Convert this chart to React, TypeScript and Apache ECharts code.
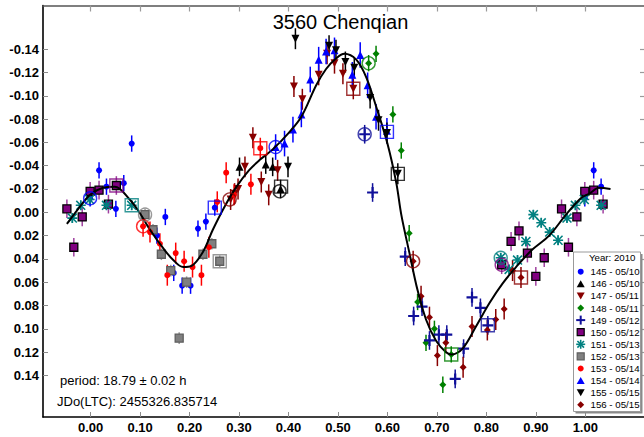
import { useEffect, useRef } from 'react';
import * as echarts from 'echarts';

const FONT = "'Liberation Sans', Arial, Helvetica, sans-serif";

// ---- Observing sessions -------------------------------------------------
const sessionIds = ['145', '146', '147', '148', '149', '150', '151', '152', '153', '154', '155', '156'];
const sessionDates = ['05/10', '05/10', '05/11', '05/11', '05/12', '05/12', '05/13', '05/13', '05/14', '05/14', '05/15', '05/15'];

// Reduced magnitudes per session: [phase, delta mag]
const s145 = [[0.999, -0.012], [0.017, -0.036], [0.032, -0.022], [0.051, -0.003], [0.067, -0.025], [0.083, -0.059], [0.134, 0.020], [0.151, 0.004], [0.168, 0.052], [0.185, 0.063], [0.202, 0.063], [0.217, 0.014], [0.233, 0.008], [0.251, -0.004]];
const s146 = [[0.301, -0.039], [0.354, -0.041], [0.368, -0.039], [0.384, -0.020]];
const s147 = [[0.283, -0.011], [0.291, -0.016], [0.298, -0.020], [0.312, -0.039], [0.328, -0.064], [0.345, -0.026], [0.360, -0.015], [0.378, -0.036], [0.411, -0.108], [0.428, -0.097], [0.461, -0.118], [0.478, -0.136], [0.493, -0.128], [0.510, -0.119], [0.531, -0.106]];
const s148 = [[0.562, -0.128], [0.577, -0.136], [0.611, -0.084], [0.628, -0.053], [0.644, 0.018], [0.661, 0.077], [0.678, 0.112], [0.695, 0.100], [0.712, 0.148], [0.729, 0.122]];
const s149 = [[0.554, -0.067], [0.570, -0.017], [0.636, 0.038], [0.653, 0.089], [0.670, 0.081], [0.685, 0.110], [0.704, 0.105], [0.720, 0.105], [0.737, 0.143], [0.754, 0.117], [0.771, 0.073], [0.788, 0.082], [0.803, 0.097]];
const s150 = [[0.999, -0.018], [0.017, -0.019], [0.036, -0.007], [0.052, -0.023], [0.831, 0.045], [0.850, 0.025], [0.866, 0.016], [0.883, 0.035], [0.900, 0.055], [0.917, 0.039], [0.952, -0.003], [0.966, 0.030], [0.983, 0.004]];
const s151 = [[0.032, -0.006], [0.083, -0.006], [0.829, 0.039], [0.846, 0.049], [0.863, 0.041], [0.880, 0.025], [0.895, 0.002], [0.911, 0.009], [0.928, 0.017], [0.945, 0.024], [0.963, 0.005], [0.980, -0.006], [0.998, -0.011]];
const s152 = [[0.110, 0.002], [0.126, 0.015], [0.143, 0.036], [0.162, 0.050], [0.179, 0.108], [0.194, 0.060], [0.227, 0.036], [0.245, 0.027], [0.261, 0.042]];
const s153 = [[0.106, 0.012], [0.120, 0.017], [0.140, 0.027], [0.155, 0.054], [0.172, 0.035], [0.189, 0.042], [0.206, 0.047], [0.224, 0.054], [0.239, 0.030], [0.256, -0.009], [0.274, -0.034], [0.290, -0.015], [0.324, -0.024], [0.343, -0.055]];
const s154 = [[0.374, -0.056], [0.392, -0.059], [0.409, -0.071], [0.426, -0.084], [0.444, -0.114], [0.461, -0.131], [0.476, -0.138], [0.493, -0.139], [0.529, -0.118], [0.545, -0.135], [0.560, -0.109], [0.577, -0.082], [0.599, -0.070]];
const s155 = [[0.399, -0.039], [0.414, -0.149], [0.482, -0.143], [0.496, -0.139], [0.515, -0.129], [0.533, -0.124], [0.565, -0.098], [0.582, -0.079], [0.599, -0.068], [0.621, -0.033]];
const s156 = [[0.652, 0.042], [0.668, 0.072], [0.685, 0.090], [0.701, 0.123], [0.718, 0.112], [0.753, 0.133], [0.771, 0.098], [0.802, 0.101], [0.819, 0.092], [0.836, 0.083], [0.853, 0.050], [0.870, 0.056]];

const sessionPoints = [s145, s146, s147, s148, s149, s150, s151, s152, s153, s154, s155, s156];

// Photometric error (half length of the error bar) per session
const sessionErrors = [0.007, 0.008, 0.009, 0.007, 0.008, 0.008, 0.004, 0.005, 0.009, 0.011, 0.009, 0.009];

// First / last point of each session: [phase, delta mag, session]
const ringMarks = [[-0.001, -0.012, '145'], [0.106, 0.012, '153'], [0.110, 0.002, '152'], [0.281, -0.011, '147'], [0.374, -0.056, '154'], [0.382, -0.018, '146'], [0.554, -0.067, '149'], [0.562, -0.128, '148'], [0.652, 0.042, '156'], [0.829, 0.039, '151'], [0.831, 0.045, '150']];
const boxMarks = [[0.052, -0.023, '150'], [0.083, -0.006, '151'], [0.251, -0.004, '145'], [0.261, 0.042, '152'], [0.343, -0.055, '153'], [0.385, -0.022, '146'], [0.531, -0.106, '147'], [0.599, -0.069, '154'], [0.621, -0.033, '155'], [0.729, 0.122, '148'], [0.803, 0.097, '149'], [0.870, 0.056, '156']];

// Fourier fit of the lightcurve: [phase, delta mag]
const fitCurve = [[-0.048, 0.010], [-0.025, -0.003], [-0.001, -0.015], [0.025, -0.021], [0.049, -0.022], [0.079, -0.011], [0.100, 0.001], [0.120, 0.015], [0.147, 0.031], [0.167, 0.041], [0.187, 0.047], [0.204, 0.046], [0.227, 0.034], [0.247, 0.015], [0.271, -0.005], [0.295, -0.022], [0.320, -0.036], [0.342, -0.045], [0.368, -0.054], [0.400, -0.068], [0.426, -0.082], [0.456, -0.109], [0.476, -0.123], [0.496, -0.132], [0.513, -0.136], [0.537, -0.131], [0.557, -0.116], [0.577, -0.091], [0.600, -0.059], [0.618, -0.025], [0.628, 0.002], [0.644, 0.034], [0.661, 0.067], [0.678, 0.092], [0.698, 0.110], [0.718, 0.120], [0.729, 0.122], [0.752, 0.117], [0.779, 0.098], [0.806, 0.078], [0.833, 0.061], [0.860, 0.047], [0.893, 0.032], [0.927, 0.020], [0.961, 0.002], [0.991, -0.012], [1.008, -0.016], [1.028, -0.021], [1.051, -0.020]];

const xTicks = [0, 0.1, 0.2, 0.3, 0.4, 0.5, 0.6, 0.7, 0.8, 0.9, 1.0];
const yTicks = [-0.14, -0.12, -0.1, -0.08, -0.06, -0.04, -0.02, 0, 0.02, 0.04, 0.06, 0.08, 0.1, 0.12, 0.14];

const titleText = '3560 Chenqian';
const periodText = 'period: 18.79 \u00b1 0.02 h';
const epochText = 'JDo(LTC): 2455326.835714';
const yearText = 'Year: 2010';

// ---- Styles ----------------------------------------------------------------
const DOWN = 'path://M0,0L10,0L5,10Z';
const PLUS = 'path://M4,0H6V4H10V6H6V10H4V6H0V4H4Z';
const STAR = 'path://M0,4.2H10V5.8H0Z M4.2,0H5.8V10H4.2Z M1.1,0L10,8.9L8.9,10L0,1.1Z M8.9,0L10,1.1L1.1,10L0,8.9Z';

type MarkerStyle = { color: string; symbol: string; size: number; border?: string; bar?: string; icon: string };
const markerStyles: Record<string, MarkerStyle> = {
  '145': { color: '#0000ff', symbol: 'circle', size: 6, icon: 'circle' },
  '146': { color: '#000000', symbol: 'triangle', size: 8, icon: 'up' },
  '147': { color: '#880000', symbol: DOWN, size: 8, icon: 'down' },
  '148': { color: '#008000', symbol: 'diamond', size: 7, icon: 'diamond' },
  '149': { color: '#10109a', symbol: PLUS, size: 11, icon: 'plus' },
  '150': { color: '#800080', symbol: 'rect', size: 8, border: '#000000', bar: '#a040a0', icon: 'square' },
  '151': { color: '#008080', symbol: STAR, size: 10, icon: 'star' },
  '152': { color: '#808080', symbol: 'rect', size: 8, border: '#5e5e5e', bar: '#9a9a9a', icon: 'square' },
  '153': { color: '#ff0000', symbol: 'circle', size: 6, icon: 'circle' },
  '154': { color: '#0000ff', symbol: 'triangle', size: 8, icon: 'up' },
  '155': { color: '#000000', symbol: DOWN, size: 8, icon: 'down' },
  '156': { color: '#880000', symbol: 'diamond', size: 7, icon: 'diamond' },
};

// Plot window: pixel-exact frame around the phase / magnitude ranges
const X_MIN = -0.0963;
const X_MAX = 1.1187;
const Y_MIN = -0.1775;
const Y_MAX = 0.1757;

// Phases near 0 and 1 are repeated on the other side of the cycle
function foldPhase(points: number[][], err: number) {
  const out: number[][] = [];
  points.forEach(([p, m]) => {
    out.push([p, m, err]);
    if (p <= 0.049) out.push([p + 1, m, err]);
    if (p >= 0.951) out.push([p - 1, m, err]);
  });
  return out;
}

function legendIcon(kind: string, cx: number, cy: number, st: MarkerStyle): any[] {
  const c = st.color;
  switch (kind) {
    case 'circle':
      return [{ type: 'circle', shape: { cx, cy, r: 3 }, style: { fill: c } }];
    case 'up':
      return [{ type: 'polygon', shape: { points: [[cx - 4, cy + 3.5], [cx + 4, cy + 3.5], [cx, cy - 3.5]] }, style: { fill: c } }];
    case 'down':
      return [{ type: 'polygon', shape: { points: [[cx - 4, cy - 3.5], [cx + 4, cy - 3.5], [cx, cy + 3.5]] }, style: { fill: c } }];
    case 'diamond':
      return [{ type: 'polygon', shape: { points: [[cx, cy - 3.5], [cx + 3.5, cy], [cx, cy + 3.5], [cx - 3.5, cy]] }, style: { fill: c } }];
    case 'plus':
      return [
        { type: 'rect', shape: { x: cx - 4.5, y: cy - 1, width: 9, height: 2 }, style: { fill: c } },
        { type: 'rect', shape: { x: cx - 1, y: cy - 4.5, width: 2, height: 9 }, style: { fill: c } },
      ];
    case 'square':
      return [{ type: 'rect', shape: { x: cx - 3.5, y: cy - 3.5, width: 7, height: 7 }, style: { fill: c, stroke: st.border || c, lineWidth: 1.2 } }];
    case 'star':
      return [
        [cx - 4.5, cy, cx + 4.5, cy],
        [cx, cy - 4.5, cx, cy + 4.5],
        [cx - 3.3, cy - 3.3, cx + 3.3, cy + 3.3],
        [cx - 3.3, cy + 3.3, cx + 3.3, cy - 3.3],
      ].map(([x1, y1, x2, y2]) => ({ type: 'line', shape: { x1, y1, x2, y2 }, style: { stroke: c, lineWidth: 1.6 } }));
    default:
      return [];
  }
}

function buildLegend(): any[] {
  const left = 573.5;
  const top = 252;
  const w = 67;
  const h = 159.5;
  const els: any[] = [
    { type: 'rect', shape: { x: left + 2, y: top + 2, width: w, height: h }, style: { fill: '#8a8a8a' } },
    { type: 'rect', shape: { x: left, y: top, width: w, height: h }, style: { fill: '#ffffff', stroke: '#9a9a9a', lineWidth: 1 } },
    { type: 'text', x: 589, y: 257.5, style: { text: yearText, fontSize: 9.7, fontFamily: FONT, fill: '#000', verticalAlign: 'middle' } },
  ];
  sessionIds.forEach((id, i) => {
    const cy = 271.7 + i * 12.1;
    els.push(...legendIcon(markerStyles[id].icon, 580.7, cy, markerStyles[id]));
    els.push({ type: 'text', x: 590.5, y: cy, style: { text: `${id} - ${sessionDates[i]}`, fontSize: 9.7, fontFamily: FONT, fill: '#000', verticalAlign: 'middle' } });
  });
  return els.map((e) => ({ ...e, z: 100, silent: true }));
}

export default function App() {
  const ref = useRef<HTMLDivElement>(null);

  useEffect(() => {
    if (!ref.current) return;
    const chart = echarts.init(ref.current, undefined, { renderer: 'svg' });

    const series: any[] = [];

    // error bars
    sessionIds.forEach((id, i) => {
      const st = markerStyles[id];
      const stroke = st.bar || st.color;
      series.push({
        type: 'custom',
        silent: true,
        z: 2,
        encode: { x: 0, y: 1 },
        data: foldPhase(sessionPoints[i], sessionErrors[i]),
        renderItem: (_params: any, api: any) => {
          const x = api.value(0);
          const y = api.value(1);
          const e = api.value(2);
          const a = api.coord([x, y - e]);
          const b = api.coord([x, y + e]);
          return {
            type: 'line',
            shape: { x1: a[0], y1: a[1], x2: b[0], y2: b[1] },
            style: { stroke, lineWidth: 1.5 },
          };
        },
      });
    });

    // markers
    sessionIds.forEach((id, i) => {
      const st = markerStyles[id];
      series.push({
        type: 'scatter',
        name: id,
        silent: true,
        z: 3,
        symbol: st.symbol,
        symbolSize: st.size,
        data: foldPhase(sessionPoints[i], sessionErrors[i]).map((d) => [d[0], d[1]]),
        itemStyle: { color: st.color, borderColor: st.border || st.color, borderWidth: st.border ? 1.3 : 0, opacity: 1 },
      });
    });

    // fit curve
    series.push({
      type: 'line',
      silent: true,
      z: 4,
      data: fitCurve,
      smooth: 0.35,
      showSymbol: false,
      symbol: 'none',
      lineStyle: { color: '#000', width: 2 },
    });

    // session start / end marks
    series.push({
      type: 'scatter',
      silent: true,
      z: 5,
      symbol: 'circle',
      symbolSize: 13,
      data: ringMarks.map(([p, m, s]) => ({
        value: [p, m],
        itemStyle: { color: 'rgba(0,0,0,0)', borderColor: markerStyles[s as string].color, borderWidth: 1.4 },
      })),
    });
    series.push({
      type: 'scatter',
      silent: true,
      z: 5,
      symbol: 'rect',
      symbolSize: 13,
      data: boxMarks.map(([p, m, s]) => ({
        value: [p, m],
        itemStyle: { color: 'rgba(0,0,0,0)', borderColor: markerStyles[s as string].color, borderWidth: 1.4 },
      })),
    });

    const axisLabelStyle = { fontFamily: FONT, fontWeight: 'bold' as const, fontSize: 13, color: '#000' };

    chart.setOption({
      animation: false,
      backgroundColor: '#ffffff',
      grid: { left: 43, right: -1, top: 5.5, bottom: 20 },
      xAxis: [
        {
          type: 'value',
          position: 'bottom',
          min: X_MIN,
          max: X_MAX,
          axisLine: { show: true, onZero: false, lineStyle: { color: '#000', width: 1.6 } },
          axisTick: { show: true, inside: true, length: 5, customValues: xTicks, lineStyle: { color: '#8c8c8c', width: 1 } },
          axisLabel: { show: true, customValues: xTicks, margin: 4, formatter: (v: number) => v.toFixed(2), ...axisLabelStyle },
          splitLine: { show: false },
        },
        {
          type: 'value',
          position: 'top',
          min: X_MIN,
          max: X_MAX,
          axisLine: { show: true, onZero: false, lineStyle: { color: '#555', width: 1.5 } },
          axisTick: { show: true, inside: true, length: 6, customValues: xTicks, lineStyle: { color: '#9a9a9a', width: 1.2 } },
          axisLabel: { show: false },
          splitLine: { show: false },
        },
      ],
      yAxis: [
        {
          type: 'value',
          position: 'left',
          inverse: true,
          min: Y_MIN,
          max: Y_MAX,
          axisLine: { show: true, onZero: false, lineStyle: { color: '#000', width: 1.6 } },
          axisTick: { show: true, inside: true, length: 5, customValues: yTicks, lineStyle: { color: '#8c8c8c', width: 1 } },
          axisLabel: { show: true, customValues: yTicks, margin: 4, formatter: (v: number) => v.toFixed(2), ...axisLabelStyle },
          splitLine: { show: false },
        },
        {
          type: 'value',
          position: 'right',
          inverse: true,
          min: Y_MIN,
          max: Y_MAX,
          axisLine: { show: false, onZero: false },
          axisTick: { show: true, inside: true, length: 4, customValues: yTicks, lineStyle: { color: '#9a9a9a', width: 1.2 } },
          axisLabel: { show: false },
          splitLine: { show: false },
        },
      ],
      series,
      graphic: {
        elements: [
          {
            type: 'text',
            x: 340.5,
            y: 21.5,
            z: 100,
            silent: true,
            style: { text: titleText, fontSize: 20, fontFamily: FONT, fill: '#000', align: 'center', verticalAlign: 'middle' },
          },
          {
            type: 'text',
            x: 60,
            y: 380.7,
            z: 100,
            silent: true,
            style: { text: periodText, fontSize: 13, fontFamily: FONT, fill: '#000', verticalAlign: 'middle' },
          },
          {
            type: 'text',
            x: 57,
            y: 401.7,
            z: 100,
            silent: true,
            style: { text: epochText, fontSize: 13, fontFamily: FONT, fill: '#000', verticalAlign: 'middle' },
          },
          ...buildLegend(),
        ],
      },
    });

    return () => chart.dispose();
  }, []);

  return (
    <div
      ref={ref}
      style={{ position: 'absolute', left: 0, top: 0, width: 644, height: 437, background: '#fff' }}
    />
  );
}
